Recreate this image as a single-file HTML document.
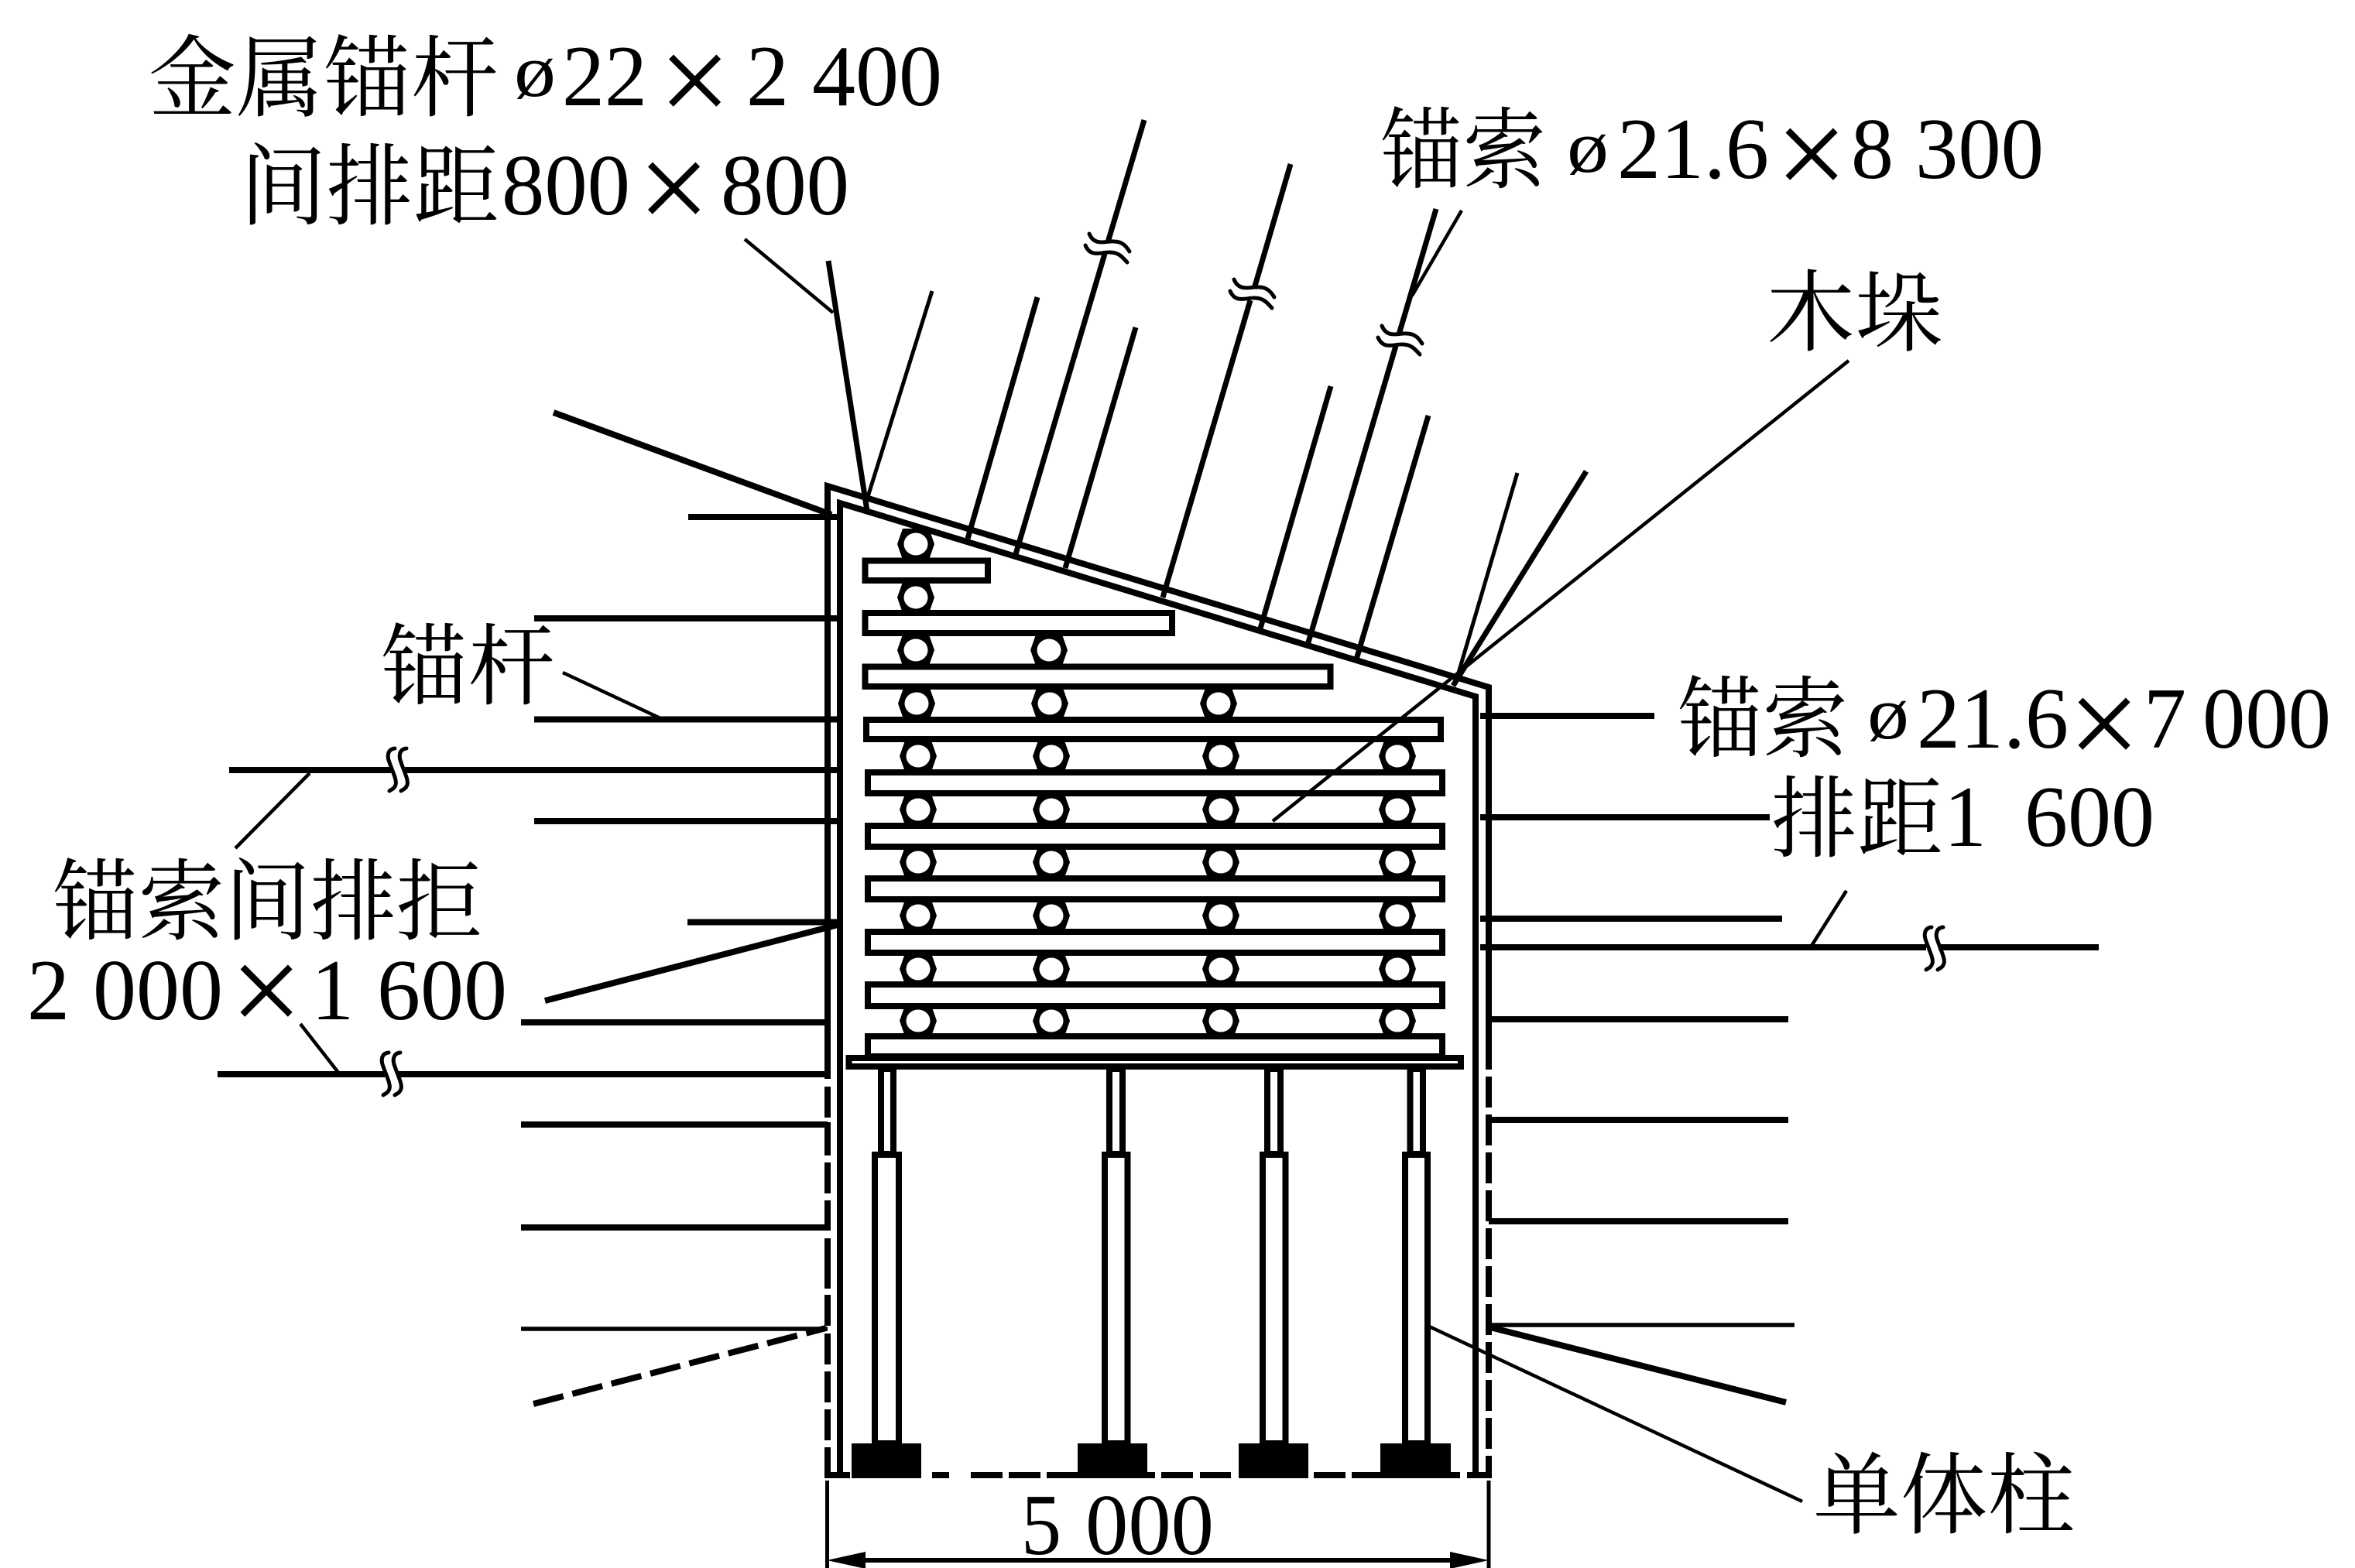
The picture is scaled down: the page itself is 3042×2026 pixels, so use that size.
<!DOCTYPE html>
<html><head><meta charset="utf-8"><style>
html,body{margin:0;padding:0;background:#fff}
svg{display:block}
.c{font-family:"Liberation Serif","Noto Serif CJK SC",serif;font-size:115px;fill:#000}
.n{font-family:"Liberation Serif",serif;font-size:112px;fill:#000}
.o{font-family:"Liberation Serif",serif;font-size:96px;fill:#000}
.x{font-family:"Liberation Serif",serif;font-size:165px;fill:#000}
</style></head><body>
<svg xmlns="http://www.w3.org/2000/svg" width="3042" height="2026" viewBox="0 0 3042 2026">
<defs>
<g id="hx"><polygon points="-24,0 -17,-20 17,-20 24,0 17,20 -17,20" fill="#000"/><ellipse cx="0" cy="0" rx="15.5" ry="14.5" fill="#fff"/></g>
<g id="bh" fill="none" stroke="#000" stroke-width="5" stroke-linecap="round"><path d="M0,-28 C-10,-27 -10,-17 -7,-10 C-3,2 3,13 1,19 C-1,25 -5,25 -7,27"/><path d="M15,-28 C5,-27 5,-17 8,-10 C12,2 18,13 16,19 C14,25 10,25 8,27"/></g>
<g id="bv" fill="none" stroke="#000" stroke-width="5" stroke-linecap="round"><path d="M-23,-19 C-16,-2 -1,-10 9,-9 C19,-9 24,-4 29,4"/><path d="M-28,-4 C-21,13 -6,4 4,5 C14,5 19,10 26,18"/></g>
</defs>
<rect width="3042" height="2026" fill="#fff"/>

<!-- cribs -->
<g>
<use href="#hx" x="1183" y="703"/><use href="#hx" x="1183" y="772"/>
<use href="#hx" x="1183" y="840"/><use href="#hx" x="1355" y="840"/>
<use href="#hx" x="1184" y="909"/><use href="#hx" x="1356" y="909"/><use href="#hx" x="1574" y="909"/>
<use href="#hx" x="1186" y="977"/><use href="#hx" x="1358" y="977"/><use href="#hx" x="1577" y="977"/><use href="#hx" x="1805" y="977"/>
<use href="#hx" x="1186" y="1046"/><use href="#hx" x="1358" y="1046"/><use href="#hx" x="1577" y="1046"/><use href="#hx" x="1805" y="1046"/>
<use href="#hx" x="1186" y="1114"/><use href="#hx" x="1358" y="1114"/><use href="#hx" x="1577" y="1114"/><use href="#hx" x="1805" y="1114"/>
<use href="#hx" x="1186" y="1183"/><use href="#hx" x="1358" y="1183"/><use href="#hx" x="1577" y="1183"/><use href="#hx" x="1805" y="1183"/>
<use href="#hx" x="1186" y="1252"/><use href="#hx" x="1358" y="1252"/><use href="#hx" x="1577" y="1252"/><use href="#hx" x="1805" y="1252"/>
<use href="#hx" x="1186" y="1319"/><use href="#hx" x="1358" y="1319"/><use href="#hx" x="1577" y="1319"/><use href="#hx" x="1805" y="1319"/>
</g>
<g fill="#fff" stroke="#000" stroke-width="8">
<rect x="1117.5" y="724.5" width="158.5" height="25.5"/>
<rect x="1117.5" y="792" width="396.5" height="26"/>
<rect x="1117.5" y="861.5" width="601" height="25.5"/>
<rect x="1119" y="930" width="742" height="25"/>
<rect x="1121" y="998" width="742" height="27"/>
<rect x="1121" y="1067" width="742" height="27"/>
<rect x="1121" y="1135" width="742" height="27"/>
<rect x="1121" y="1204" width="742" height="27"/>
<rect x="1121" y="1272" width="742" height="28"/>
<rect x="1121" y="1339" width="742" height="26"/>
<rect x="1096.5" y="1367" width="790.5" height="11"/>
</g>

<!-- props -->
<g fill="#fff" stroke="#000" stroke-width="8">
<rect x="1138" y="1381" width="16" height="110"/><rect x="1130" y="1492" width="31" height="373"/>
<rect x="1433" y="1381" width="17" height="110"/><rect x="1427" y="1492" width="29.5" height="373"/>
<rect x="1637" y="1381" width="17" height="110"/><rect x="1631" y="1492" width="29.5" height="373"/>
<rect x="1821.5" y="1381" width="16.5" height="110"/><rect x="1815" y="1492" width="29" height="373"/>
</g>

<!-- walls -->
<g fill="none" stroke="#000" stroke-width="8">
<path d="M1085,1906 L1085,650 L1906,900 L1906,1906"/>
<path d="M1069,1394 L1069,628 L1923,888 L1923,1382"/>
<path d="M1069,1404V1444 M1069,1450V1493 M1069,1502V1542 M1069,1551V1590 M1069,1600V1665 M1069,1673V1713 M1069,1723V1763 M1069,1772V1812 M1069,1821V1861 M1069,1870V1906"/>
<path d="M1923,1391 V1906" stroke-dasharray="40 9"/>
<path d="M1065,1906H1098 M1204,1906H1226 M1254,1906H1295 M1303,1906H1344 M1352,1906H1395 M1481,1906H1492 M1500,1906H1541 M1550,1906H1590 M1697,1906H1738 M1746,1906H1785 M1873,1906H1886 M1895,1906H1927"/>
</g>
<g fill="#000">
<rect x="1100" y="1865" width="90" height="45"/>
<rect x="1392" y="1865" width="90" height="45"/>
<rect x="1600" y="1865" width="90" height="45"/>
<rect x="1783" y="1865" width="91" height="45"/>
</g>

<!-- left anchors -->
<g stroke="#000" stroke-width="8" fill="none">
<path d="M889,668 H1081"/>
<path d="M690,799 H1081"/>
<path d="M690,929.5 H1081"/>
<path d="M296,995 H505 M521,995 H1081"/>
<path d="M690,1061 H1081"/>
<path d="M888,1191.5 H1081"/>
<path d="M704,1293 L1082,1195"/>
<path d="M673,1321 H1069"/>
<path d="M281,1388 H497 M513,1388 H1069"/>
<path d="M673,1453 H1069"/>
<path d="M673,1586 H1069"/>
<path d="M673,1717 H1069" stroke-width="5.5"/>
<path d="M689,1814 L1067,1716" stroke-dasharray="40 12"/>
</g>
<use href="#bh" x="510" y="995"/>
<use href="#bh" x="502" y="1388"/>

<!-- right anchors -->
<g stroke="#000" stroke-width="8" fill="none">
<path d="M1912,925 H2137"/>
<path d="M1912,1056 H2286"/>
<path d="M1912,1187 H2302"/>
<path d="M1912,1224 H2488 M2504,1224 H2711"/>
<path d="M1923,1317 H2310"/>
<path d="M1923,1447 H2310"/>
<path d="M1923,1578 H2310"/>
<path d="M1923,1712 H2318" stroke-width="5.5"/>
<path d="M1925,1715 L2307,1812"/>
</g>
<use href="#bh" x="2495" y="1226"/>

<!-- roof anchors -->
<g stroke="#000" fill="none">
<path d="M715,533 L1074,665" stroke-width="8"/>
<path d="M1070,337 L1120,660" stroke-width="7"/>
<path d="M1204,376 L1120,645" stroke-width="5"/>
<path d="M1340,384 L1250,696" stroke-width="7"/>
<path d="M1478,155 L1431,313 M1427,328 L1312,716" stroke-width="7"/>
<path d="M1467,423 L1376,734" stroke-width="7"/>
<path d="M1667,212 L1620,373 M1615,388 L1502,772" stroke-width="7"/>
<path d="M1719,499 L1628,812" stroke-width="7"/>
<path d="M1855,270 L1807,432 M1803,447 L1690,830" stroke-width="7"/>
<path d="M1845,537 L1752,852" stroke-width="7"/>
<path d="M1960,611 L1880,883" stroke-width="5"/>
<path d="M2049,609 L1877,886" stroke-width="7"/>
</g>
<use href="#bv" x="1430" y="321"/>
<use href="#bv" x="1617" y="380"/>
<use href="#bv" x="1808" y="440"/>

<!-- leaders -->
<g stroke="#000" stroke-width="4.5" fill="none">
<path d="M962,309 L1076,404"/>
<path d="M1888,272 L1824,382"/>
<path d="M2388,466 L1644,1061"/>
<path d="M727,869 L855,929"/>
<path d="M400,999 L304,1096"/>
<path d="M388,1323 L438,1387"/>
<path d="M2385,1151 L2340,1222"/>
<path d="M1842,1712 L2328,1940"/>
</g>

<!-- dimension -->
<g stroke="#000" fill="none">
<path d="M1068.5,1913 V2026 M1923,1913 V2026" stroke-width="5"/>
<path d="M1110,2016 H1880" stroke-width="6"/>
</g>
<polygon points="1068,2016 1118,2005 1118,2027" fill="#000"/>
<polygon points="1923,2016 1873,2005 1873,2027" fill="#000"/>
<text class="n" x="1319" y="2008" textLength="52" lengthAdjust="spacingAndGlyphs">5</text>
<text class="n" x="1402" y="2008" textLength="166" lengthAdjust="spacingAndGlyphs">000</text>

<!-- texts -->
<text class="c" x="192" y="141" textLength="452" lengthAdjust="spacingAndGlyphs">金属锚杆</text>
<text class="o" x="664" y="124" textLength="54" lengthAdjust="spacingAndGlyphs">ø</text>
<text class="n" x="726" y="136" textLength="110" lengthAdjust="spacingAndGlyphs">22</text>
<text class="x" x="851" y="159" textLength="93" lengthAdjust="spacingAndGlyphs">×</text>
<text class="n" x="964" y="136" textLength="55" lengthAdjust="spacingAndGlyphs">2</text>
<text class="n" x="1049" y="136" textLength="168" lengthAdjust="spacingAndGlyphs">400</text>

<text class="c" x="310" y="281" textLength="335" lengthAdjust="spacingAndGlyphs">间排距</text>
<text class="n" x="648" y="277" textLength="166" lengthAdjust="spacingAndGlyphs">800</text>
<text class="x" x="824" y="298" textLength="93" lengthAdjust="spacingAndGlyphs">×</text>
<text class="n" x="931" y="277" textLength="166" lengthAdjust="spacingAndGlyphs">800</text>

<text class="c" x="1783" y="234" textLength="214" lengthAdjust="spacingAndGlyphs">锚索</text>
<text class="o" x="2024" y="222" textLength="54" lengthAdjust="spacingAndGlyphs">ø</text>
<text class="n" x="2089" y="230" textLength="196" lengthAdjust="spacingAndGlyphs">21.6</text>
<text class="x" x="2293.5" y="254" textLength="93" lengthAdjust="spacingAndGlyphs">×</text>
<text class="n" x="2391" y="230" textLength="55" lengthAdjust="spacingAndGlyphs">8</text>
<text class="n" x="2474" y="230" textLength="166" lengthAdjust="spacingAndGlyphs">300</text>

<text class="c" x="2282" y="444" textLength="228" lengthAdjust="spacingAndGlyphs">木垛</text>

<text class="c" x="2167" y="969" textLength="220" lengthAdjust="spacingAndGlyphs">锚索</text>
<text class="o" x="2412" y="954" textLength="54" lengthAdjust="spacingAndGlyphs">ø</text>
<text class="n" x="2476" y="966" textLength="196" lengthAdjust="spacingAndGlyphs">21.6</text>
<text class="x" x="2671.5" y="990" textLength="93" lengthAdjust="spacingAndGlyphs">×</text>
<text class="n" x="2769" y="966" textLength="55" lengthAdjust="spacingAndGlyphs">7</text>
<text class="n" x="2845" y="966" textLength="166" lengthAdjust="spacingAndGlyphs">000</text>

<text class="c" x="2288" y="1098" textLength="222" lengthAdjust="spacingAndGlyphs">排距</text>
<text class="n" x="2511" y="1093" textLength="55" lengthAdjust="spacingAndGlyphs">1</text>
<text class="n" x="2615" y="1093" textLength="168" lengthAdjust="spacingAndGlyphs">600</text>

<text class="c" x="492" y="901" textLength="225" lengthAdjust="spacingAndGlyphs">锚杆</text>
<text class="c" x="68" y="1205" textLength="555" lengthAdjust="spacingAndGlyphs">锚索间排拒</text>
<text class="n" x="35" y="1317" textLength="55" lengthAdjust="spacingAndGlyphs">2</text>
<text class="n" x="120" y="1317" textLength="168" lengthAdjust="spacingAndGlyphs">000</text>
<text class="x" x="297.5" y="1335" textLength="93" lengthAdjust="spacingAndGlyphs">×</text>
<text class="n" x="402" y="1317" textLength="55" lengthAdjust="spacingAndGlyphs">1</text>
<text class="n" x="487" y="1317" textLength="168" lengthAdjust="spacingAndGlyphs">600</text>

<text class="c" x="2342" y="1972" textLength="338" lengthAdjust="spacingAndGlyphs">单体柱</text>
</svg>
</body></html>
